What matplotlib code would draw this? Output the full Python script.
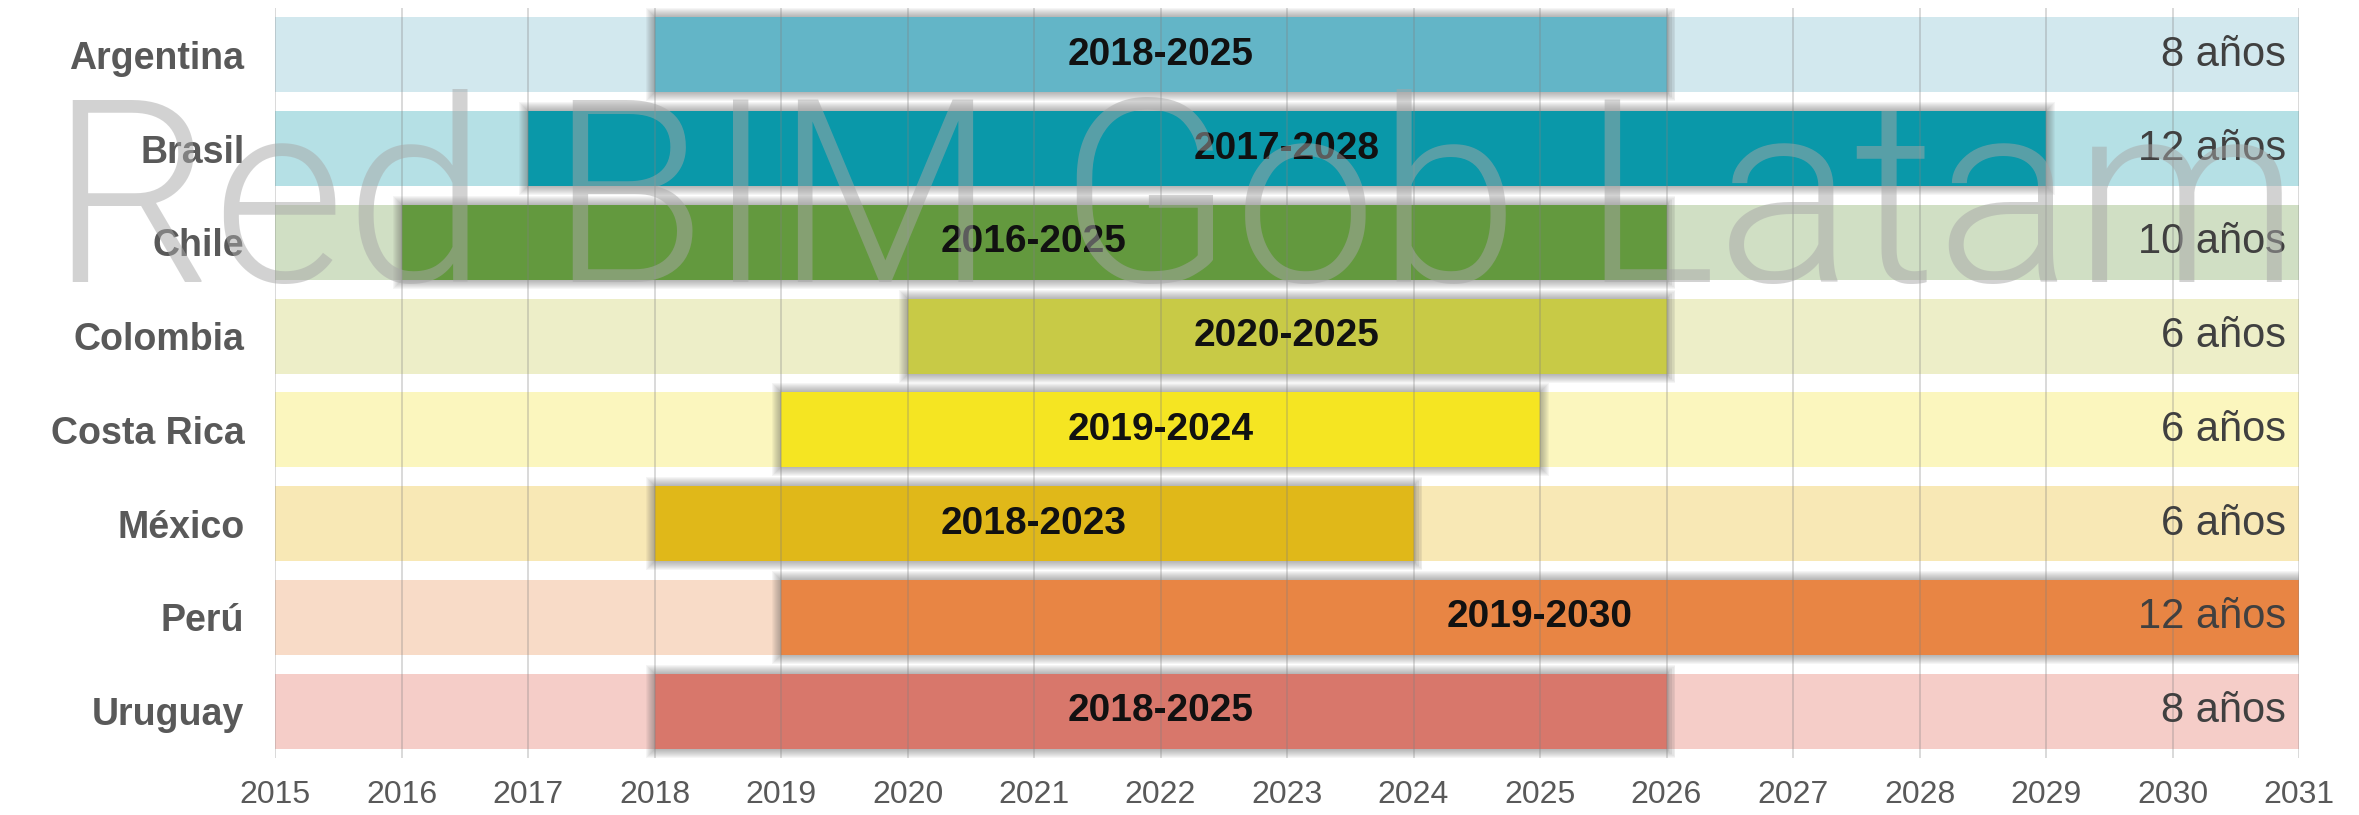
import matplotlib
matplotlib.use("Agg")
import matplotlib.pyplot as plt
from matplotlib.patches import Rectangle

plt.rcParams['font.family'] = ['Liberation Sans Narrow', 'Liberation Sans', 'DejaVu Sans']

# datos: inicio y fin del plan BIM por país
paises = ["Argentina", "Brasil", "Chile", "Colombia", "Costa Rica", "México", "Perú", "Uruguay"]
inicio = [2018, 2017, 2016, 2020, 2019, 2018, 2019, 2018]
fin = [2025, 2028, 2025, 2025, 2024, 2023, 2030, 2025]
color_barra = ["#63B5C7", "#0A98A9", "#63993E", "#C8CA46", "#F5E522", "#E0B819", "#E88544", "#D8776B"]
color_fondo = ["#D2E8EE", "#B5E0E5", "#D0DFC4", "#EDEEC8", "#FBF6BE", "#F8E8B5", "#F8DBC7", "#F5CDC8"]
anios = list(range(2015, 2032))

W, H = 2359, 815
fig = plt.figure(figsize=(W / 100, H / 100), dpi=100)
ax = fig.add_axes([275 / W, 1 - 758 / H, (2299 - 275) / W, 750 / H])
ax.set_xlim(2015, 2031)
ax.set_ylim(7.5, -0.5)

alto = 0.8
px_x = 16 / (2299 - 275)   # años por pixel
px_y = 8 / 750

for i, p in enumerate(paises):
    # barra de fondo (todo el rango)
    ax.barh(i, 2031 - 2015, left=2015, height=alto, color=color_fondo[i], zorder=1)
    x0 = inicio[i]
    x1 = fin[i] + 1
    # sombra difusa
    for k in range(1, 10):
        ax.add_patch(Rectangle((x0 - k * px_x, i - alto / 2 - k * px_y),
                               (x1 - x0) + 2 * k * px_x, alto + 2 * k * px_y,
                               facecolor="#555555", edgecolor="none", alpha=0.055, zorder=2))
    ax.barh(i, x1 - x0, left=x0, height=alto, color=color_barra[i], zorder=3)
    ax.text((x0 + x1) / 2, i, "%d-%d" % (inicio[i], fin[i]), ha="center", va="center",
            fontsize=28, fontweight="bold", color="#111111", zorder=6)
    ax.text(2031 - 13 * px_x, i, "%d años" % (fin[i] - inicio[i] + 1), ha="right", va="center",
            fontsize=30, color="#404040", zorder=6)

for a in anios:
    ax.axvline(a, color="#808080", alpha=0.35, lw=1.2, zorder=4)

ax.set_xticks(anios)
ax.set_xticklabels([str(a) for a in anios], fontsize=23, color="#595959")
ax.set_yticks(range(len(paises)))
ax.set_yticklabels(paises, fontsize=27, fontweight="bold", color="#595959")
ax.tick_params(axis="y", length=0, pad=22)
ax.tick_params(axis="x", length=0, pad=16)
for s in ax.spines.values():
    s.set_visible(False)

# marca de agua
wm = fig.text(1175 / W, 1 - 282 / H, "Red BIM Gob Latam", fontsize=170, color="#A7A7A7",
              alpha=0.5, ha="center", va="baseline", zorder=10,
              family=["Roboto", "DejaVu Sans"], fontweight=300)
r = fig.canvas.get_renderer()
ancho = wm.get_window_extent(renderer=r).width
wm.set_fontsize(170 * (2250 / ancho))

fig.savefig("out.png", dpi=100)
